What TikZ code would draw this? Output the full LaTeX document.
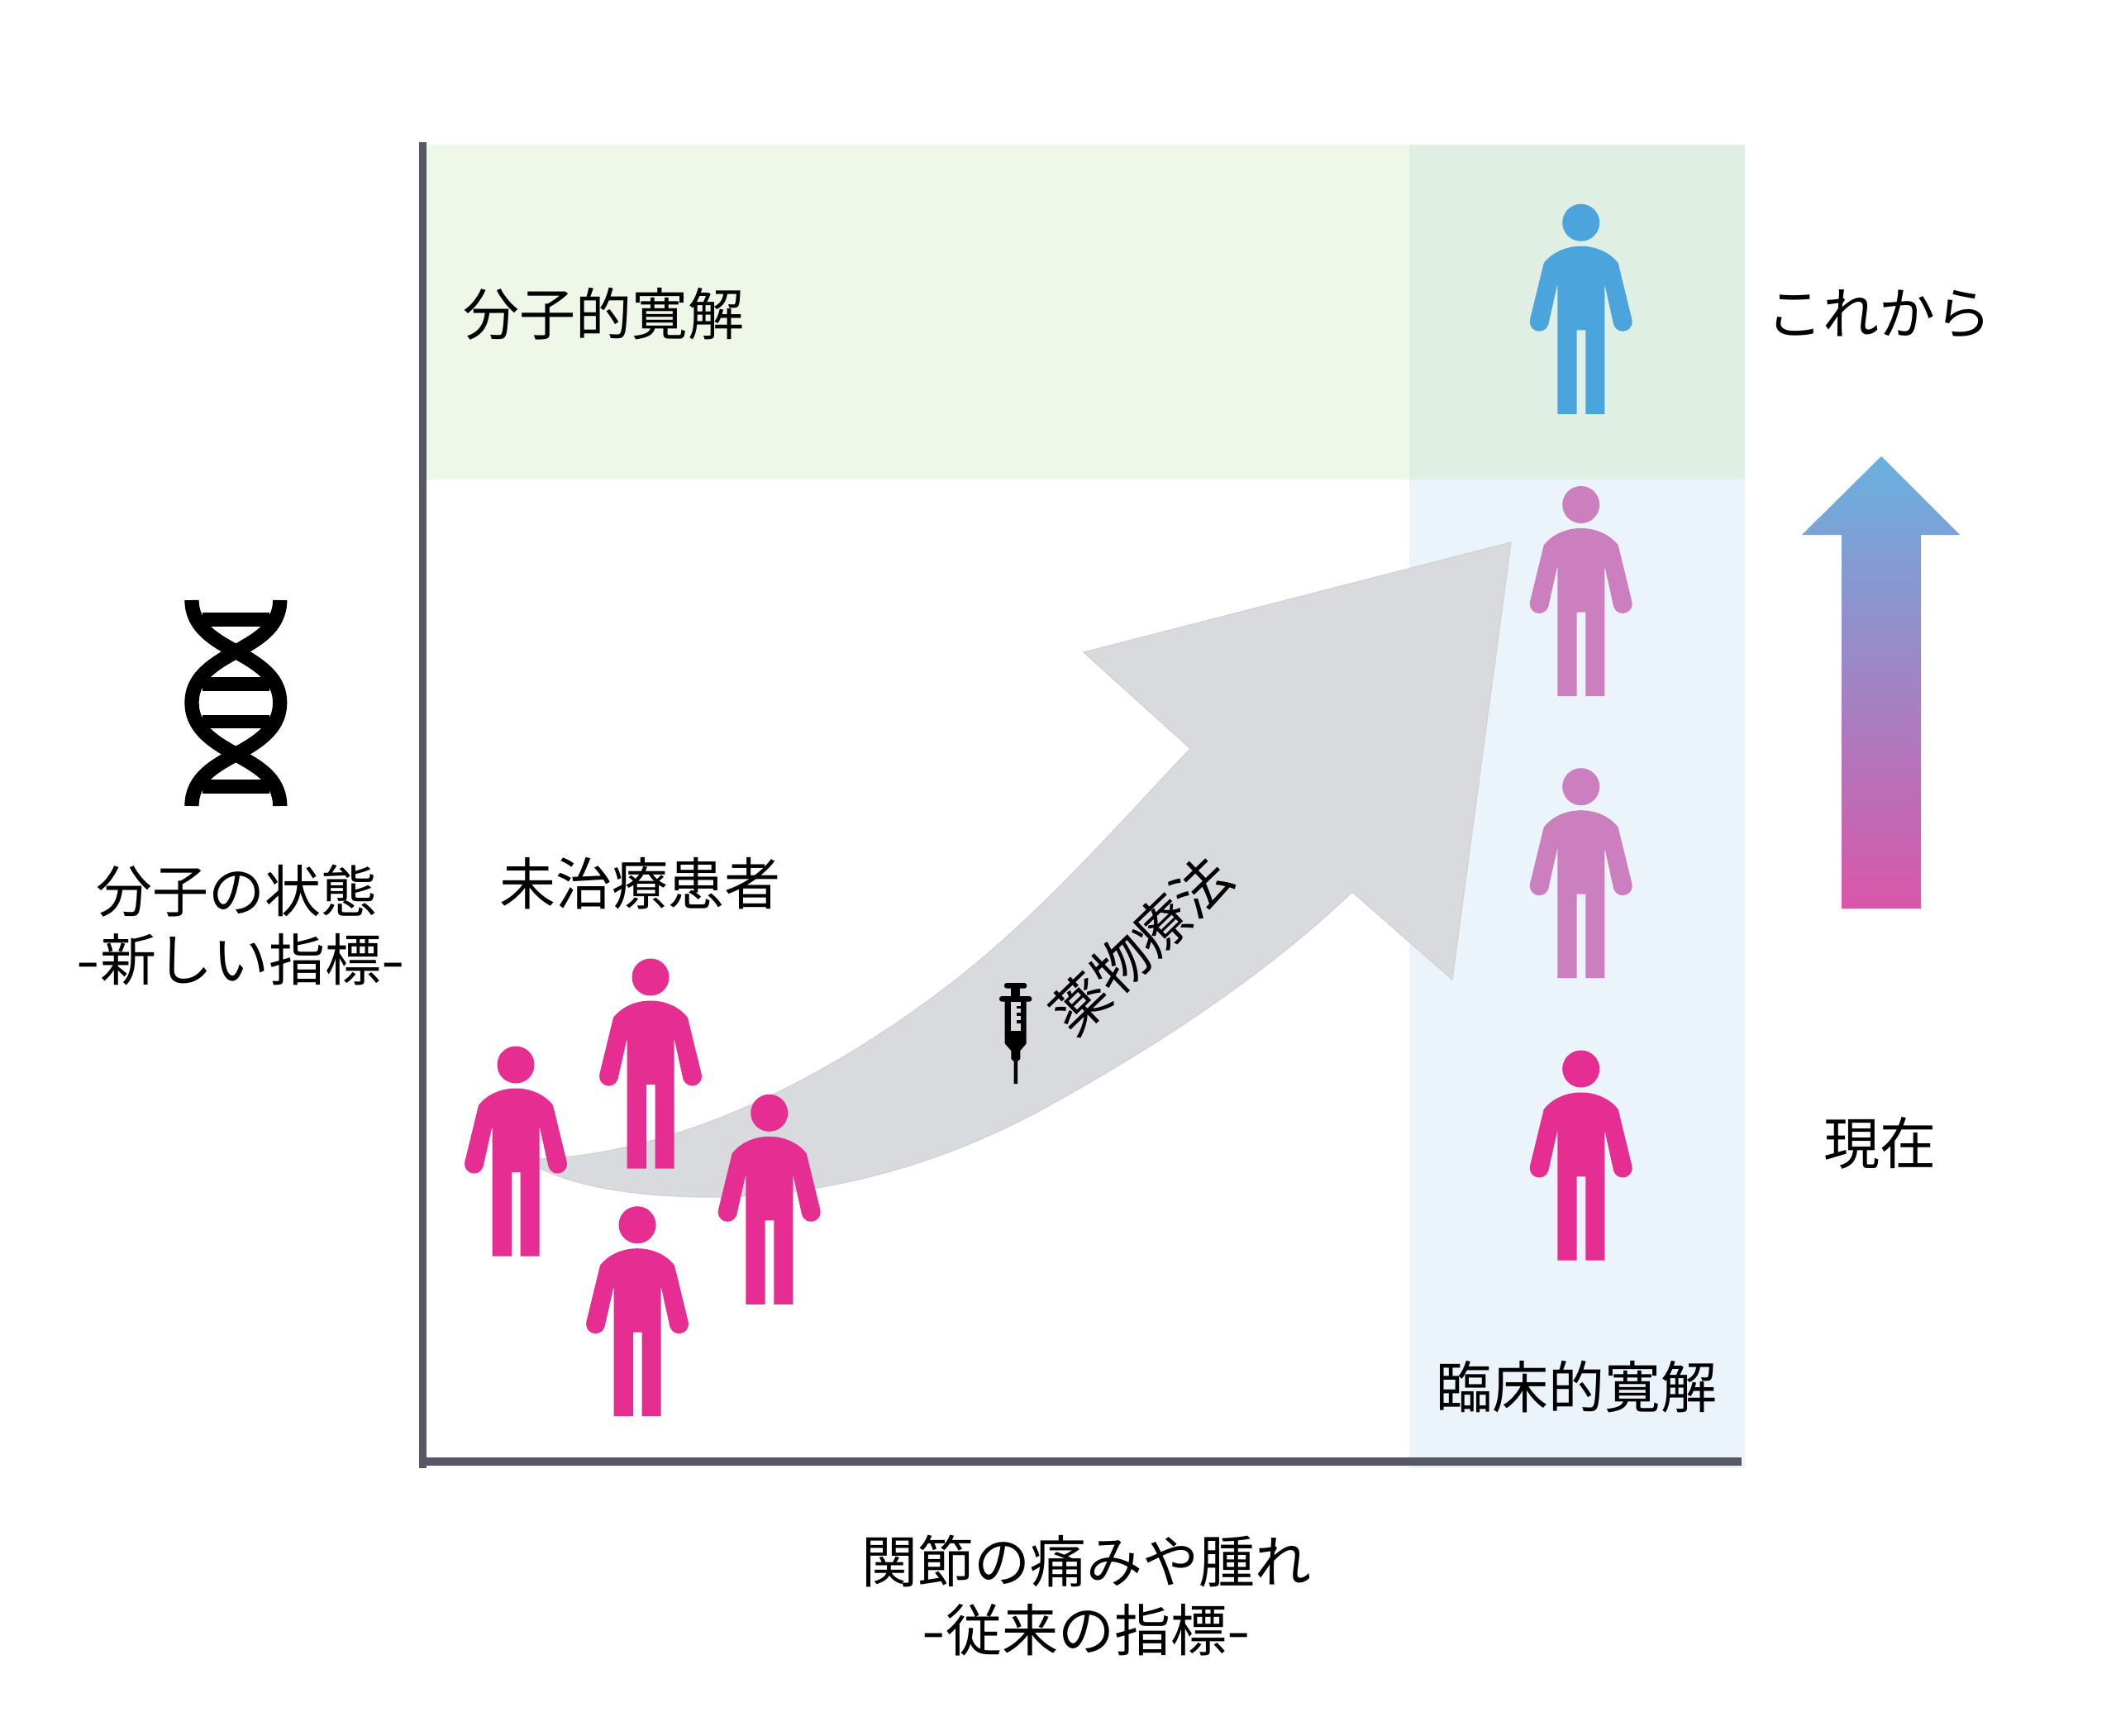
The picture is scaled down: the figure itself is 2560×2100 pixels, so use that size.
\documentclass[tikz,border=0pt]{standalone}
\usepackage{fontspec}
\setmainfont{Noto Sans CJK JP}
\definecolor{axiscol}{HTML}{585766}
\definecolor{greenL}{HTML}{EFF7E8}
\definecolor{greenD}{HTML}{E0EFE3}
\definecolor{blueL}{HTML}{EBF4FB}
\definecolor{arrowgrey}{HTML}{D8DADE}
\definecolor{arrowedge}{HTML}{D0D2D5}
\definecolor{figblue}{HTML}{4BA5DC}
\definecolor{figpurple}{HTML}{CC7FBE}
\definecolor{figpink}{HTML}{E62E92}
\definecolor{gradtop}{HTML}{68B1E0}
\definecolor{gradbot}{HTML}{DA56A8}
\newcommand{\widehy}{\scalebox{1.2}[1]{-}}
\tikzset{
  label text/.style={font=\fontsize{68}{68}\selectfont,text=black,inner sep=0pt,anchor=center},
  pics/person/.style={code={
    \fill[#1] (0,0) circle[radius=22.5];
    \fill[#1] (0,28.5) .. controls (18,28.5) and (35,36) .. (45,49)
      -- (61.6,117) -- (39.4,123) -- (28.6,74) -- (28.6,231.5) -- (5.6,231.5) -- (5.6,130)
      -- (-5,130) -- (-5,231.5) -- (-28.4,231.5) -- (-28.4,74) -- (-39.4,123) -- (-61.6,117)
      -- (-45,49) .. controls (-35,36) and (-18,28.5) .. (0,28.5) -- cycle;
    \fill[#1] (50.5,120) circle[radius=11.5];
    \fill[#1] (-50.5,120) circle[radius=11.5];
  }}
}
\begin{document}
\begin{tikzpicture}[x=1pt,y=-1pt]
\useasboundingbox (0,0) rectangle (2560,2100);
\fill[white] (0,0) rectangle (2560,2100);
% panels
\fill[greenL] (516,175) rectangle (1705,580);
\fill[greenD] (1705,175) rectangle (2110.7,580);
\fill[blueL] (1705,580) rectangle (2110.7,1776);
% axes
\fill[axiscol] (507,171.7) rectangle (515.7,1775.7);
\fill[axiscol] (507,1763) rectangle (2107,1773);
% grey sweeping arrow
\filldraw[fill=arrowgrey,draw=arrowedge,line width=1.2pt] (1828,656) -- (1311,789) -- (1440,905.6)
  .. controls (1350,1000) and (1260,1105) .. (1150,1190)
  .. controls (1040,1275) and (850,1393) .. (653,1402)
  -- (653,1413)
  .. controls (700,1437) and (780,1449) .. (870,1448)
  .. controls (1010,1446) and (1150,1404) .. (1270,1337)
  .. controls (1400,1265) and (1530,1180) .. (1636,1079)
  -- (1757,1185) -- cycle;
% gradient arrow
\shade[top color=gradtop,bottom color=gradbot]
  (2276,552) -- (2371,647) -- (2324,647) -- (2324,1099) -- (2228,1099) -- (2228,647) -- (2180,647) -- cycle;
% figures
\pic at (1912.7,269.3) {person=figblue};
\pic at (1912.7,610.5) {person=figpurple};
\pic at (1912.7,951.7) {person=figpurple};
\pic at (1912.7,1293) {person=figpink};
\pic at (624,1288) {person=figpink};
\pic at (787,1182) {person=figpink};
\pic at (930.7,1346.3) {person=figpink};
\pic at (771,1481.7) {person=figpink};
% DNA
\fill[black] (245,741) rectangle (326,757.7);
\fill[black] (245,819.3) rectangle (326,836);
\fill[black] (245,864.7) rectangle (326,881.3);
\fill[black] (245,943.3) rectangle (326,960);
\draw[black,line width=17.3pt] (232,726) .. controls (232,760) and (262,775) .. (285.3,788.3)
  .. controls (318,806) and (338.7,822) .. (338.7,850)
  .. controls (338.7,878) and (318,895) .. (285.3,912.3)
  .. controls (262,926) and (232,940) .. (232,975);
\draw[black,line width=17.3pt] (338.7,726) .. controls (338.7,760) and (308.6,775) .. (285.3,788.3)
  .. controls (252.6,806) and (232,822) .. (232,850)
  .. controls (232,878) and (252.6,895) .. (285.3,912.3)
  .. controls (308.6,926) and (338.7,940) .. (338.7,975);
% syringe
\fill[black,rounded corners=3pt] (1215,1189) rectangle (1242.3,1195.7);
\fill[black] (1223.3,1194) rectangle (1234.3,1206);
\fill[black,rounded corners=3pt] (1209,1205) rectangle (1248.3,1211.7);
\fill[black] (1215.7,1211) -- (1241.7,1211) -- (1241.7,1262.3) -- (1234.3,1271) -- (1234.3,1281) -- (1231,1284)
  -- (1231,1311) -- (1226.7,1311) -- (1226.7,1284) -- (1223.3,1281) -- (1223.3,1271) -- (1215.7,1262.3) -- cycle;
\fill[arrowgrey] (1223.3,1212.3) rectangle (1235,1246.7);
\fill[black] (1229.5,1216.5) rectangle (1235,1220);
\fill[black] (1229.5,1225) rectangle (1235,1228.5);
\fill[black] (1229.5,1234) rectangle (1235,1238);
% labels
\node[label text] (molrem) at (730,380) {分子的寛解};
\node[label text] (future) at (2273,380) {これから};
\node[label text] (molstate) at (286,1078) {分子の状態};
\node[label text] (newidx) at (291,1161) {\widehy 新しい指標\widehy};
\node[label text] (untreated) at (774,1069) {未治療患者};
\node[label text] (now) at (2274,1383) {現在};
\node[label text] (clinrem) at (1907,1678) {臨床的寛解};
\node[label text] (joint) at (1314,1889) {関節の痛みや腫れ};
\node[label text] (oldidx) at (1314,1972) {\widehy 従来の指標\widehy};
\node[label text,rotate=44] (drug) at (1380,1143) {薬物療法};
\end{tikzpicture}
\end{document}
